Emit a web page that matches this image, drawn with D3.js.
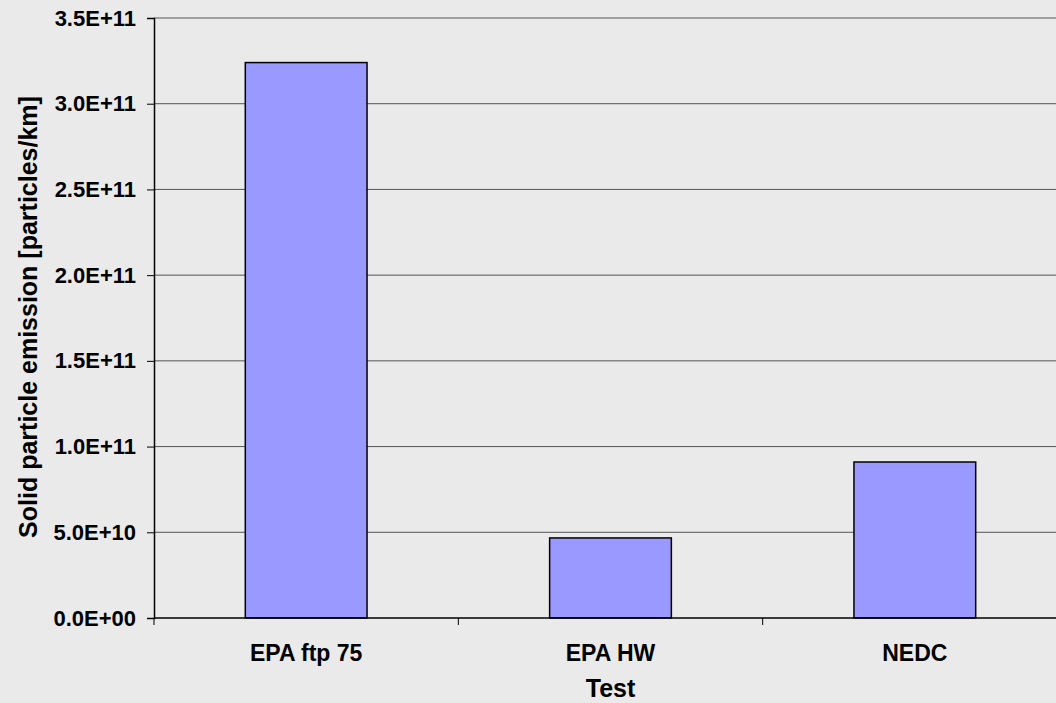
<!DOCTYPE html>
<html><head><meta charset="utf-8">
<script src="https://cdn.jsdelivr.net/npm/d3@7"></script>
<style>
html,body{margin:0;padding:0;background:#EAEAEA;overflow:hidden;}
text{font-family:"Liberation Sans",Arial,sans-serif;font-weight:bold;fill:#000;}
</style></head>
<body>
<svg id="c" width="1056" height="703"></svg>
<script>
const categories = ["EPA ftp 75", "EPA HW", "NEDC"];
const values = [3.24e11, 0.467e11, 0.91e11];
const yTicks = [0, 0.5e11, 1.0e11, 1.5e11, 2.0e11, 2.5e11, 3.0e11, 3.5e11];
const yTickLabels = ["0.0E+00","5.0E+10","1.0E+11","1.5E+11","2.0E+11","2.5E+11","3.0E+11","3.5E+11"];
const xTitle = "Test";
const yTitle = "Solid particle emission [particles/km]";

(function () {
const svg = d3.select("#c");
const W = 1056, H = 703;
svg.append("rect").attr("width", W).attr("height", H).attr("fill", "#EAEAEA");

const mL = 154, mR = 1067, mT = 18, mB = 618;
const x = d3.scaleBand().domain(categories).range([mL, mR]).paddingInner(0.6).paddingOuter(0.3);
const y = d3.scaleLinear().domain([0, 3.5e11]).range([mB, mT]);

// gridlines
svg.append("g").selectAll("line").data(yTicks.slice(1)).join("line")
  .attr("x1", mL).attr("x2", mR)
  .attr("y1", d => y(d)).attr("y2", d => y(d))
  .attr("stroke", "#555").attr("stroke-width", 1);

// bars
svg.append("g").selectAll("rect").data(values).join("rect")
  .attr("x", (d, i) => x(categories[i]))
  .attr("y", d => y(d))
  .attr("width", x.bandwidth())
  .attr("height", d => y(0) - y(d))
  .attr("fill", "#9999FF").attr("stroke", "#000").attr("stroke-width", 1.5);

// y axis
const yAxis = d3.axisLeft(y).tickValues(yTicks)
  .tickFormat((d, i) => yTickLabels[i]).tickSize(7).tickPadding(11);
const gy = svg.append("g").attr("transform", `translate(${mL},0)`).call(yAxis);
gy.select(".domain").attr("stroke", "#000").attr("stroke-width", 1.5);
gy.selectAll(".tick line").attr("stroke", "#000");
gy.selectAll(".tick text").attr("font-size", 22).attr("font-family", null).attr("font-weight", "bold");

// x axis
const boundaries = d3.range(0, categories.length + 1).map(i => mL + i * (mR - mL) / categories.length);
const gx = svg.append("g");
gx.append("line").attr("x1", mL).attr("x2", mR).attr("y1", mB).attr("y2", mB)
  .attr("stroke", "#000").attr("stroke-width", 1.5);
gx.selectAll("line.t").data(boundaries).join("line").attr("class", "t")
  .attr("x1", d => d).attr("x2", d => d).attr("y1", mB).attr("y2", mB + 7)
  .attr("stroke", "#000");
gx.selectAll("text").data(categories).join("text")
  .attr("x", d => x(d) + x.bandwidth() / 2).attr("y", 661)
  .attr("text-anchor", "middle").attr("font-size", 23).text(d => d);

// titles
svg.append("text").attr("x", (mL + mR) / 2).attr("y", 697)
  .attr("text-anchor", "middle").attr("font-size", 25).text(xTitle);
svg.append("text").attr("transform", `translate(37,317) rotate(-90)`)
  .attr("text-anchor", "middle").attr("font-size", 25).text(yTitle);
})();
</script>
</body></html>
